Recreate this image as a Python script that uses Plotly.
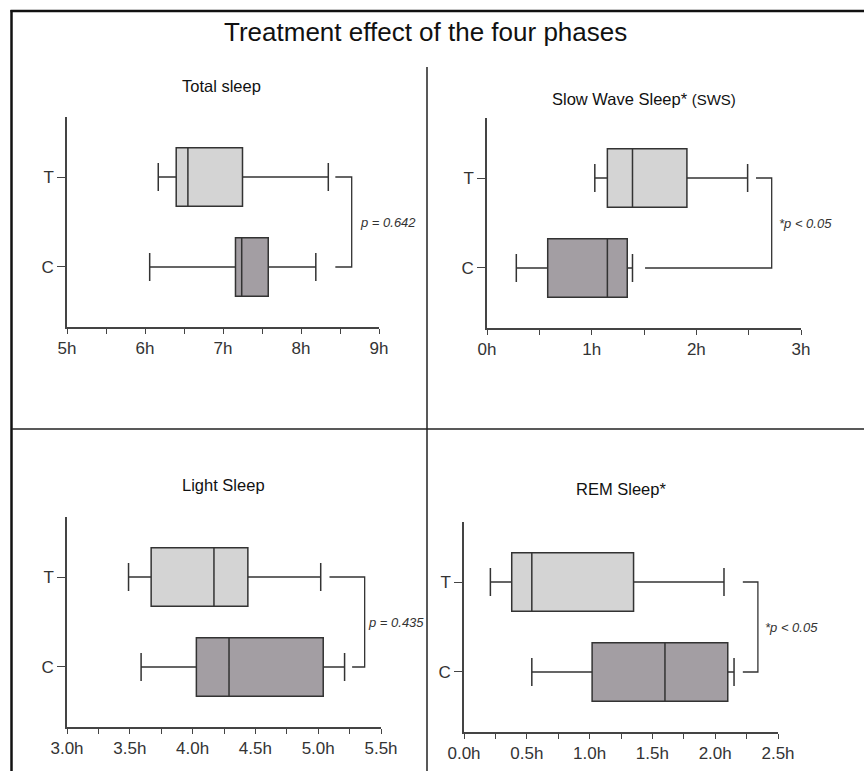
import plotly.graph_objects as go

W, H = 864, 771

# ---------------- data (hours) ----------------
panel_titles = ["Total sleep", "Slow Wave Sleep* <span style='font-size:15px'>(SWS)</span>", "Light Sleep", "REM Sleep*"]
groups = ["C", "T"]

# T (treatment) box stats per panel: [low, q1, median, q3, high]
T_low = [6.17, 1.03, 3.49, 0.21]
T_q1 = [6.40, 1.15, 3.67, 0.38]
T_med = [6.55, 1.39, 4.17, 0.54]
T_q3 = [7.25, 1.91, 4.44, 1.35]
T_high = [8.35, 2.49, 5.02, 2.07]

# C (control)
C_low = [6.06, 0.28, 3.59, 0.54]
C_q1 = [7.16, 0.58, 4.03, 1.02]
C_med = [7.24, 1.15, 4.29, 1.60]
C_q3 = [7.58, 1.34, 5.04, 2.10]
C_high = [8.19, 1.39, 5.21, 2.15]

# significance brackets
br_T_start = [8.44, 2.57, 5.09, 2.22]
br_C_start = [8.44, 1.51, 5.27, 2.22]
br_end = [8.65, 2.72, 5.37, 2.34]
p_text = ["p = 0.642", "*p < 0.05", "p = 0.435", "*p < 0.05"]
p_x = [8.73, 2.77, 5.38, 2.38]

# axes
x_ranges = [[5, 9], [0, 3], [3.0, 5.5], [0.0, 2.5]]
x_tickvals = [
    [5, 5.5, 6, 6.5, 7, 7.5, 8, 8.5, 9],
    [0, 0.5, 1, 1.5, 2, 2.5, 3],
    [3.0, 3.25, 3.5, 3.75, 4.0, 4.25, 4.5, 4.75, 5.0, 5.25, 5.5],
    [0.0, 0.25, 0.5, 0.75, 1.0, 1.25, 1.5, 1.75, 2.0, 2.25, 2.5],
]
x_ticktext = [
    ["5h", "", "6h", "", "7h", "", "8h", "", "9h"],
    ["0h", "", "1h", "", "2h", "", "3h"],
    ["3.0h", "", "3.5h", "", "4.0h", "", "4.5h", "", "5.0h", "", "5.5h"],
    ["0.0h", "", "0.5h", "", "1.0h", "", "1.5h", "", "2.0h", "", "2.5h"],
]

# ---------------- layout geometry (pixels) ----------------
plot_px = [  # left, right, top, bottom
    (67, 379, 117, 327),
    (487, 801, 118, 328),
    (67, 381, 517, 727),
    (464, 778, 522, 732),
]
title_px = [(222, 86), (644, 99), (223, 485), (621, 489)]

T_fill = "#d4d4d4"
C_fill = "#a39ea3"
LINE = "#333333"
AX = "#444444"
FONT = "Liberation Sans, Arial, sans-serif"


def px_x(v):
    return v / W


def px_y(v):
    return 1 - v / H


fig = go.Figure()
layout = {}
annotations = []

for i in range(4):
    n = "" if i == 0 else str(i + 1)
    xa, ya = "x" + n, "y" + n
    for g, lo, q1, md, q3, hi, fill in [
        ("T", T_low, T_q1, T_med, T_q3, T_high, T_fill),
        ("C", C_low, C_q1, C_med, C_q3, C_high, C_fill),
    ]:
        fig.add_trace(go.Box(
            y=[groups.index(g)], q1=[q1[i]], median=[md[i]], q3=[q3[i]],
            lowerfence=[lo[i]], upperfence=[hi[i]],
            orientation="h", boxpoints=False, width=0.65, whiskerwidth=0.48,
            fillcolor=fill, line=dict(color=LINE, width=1.5),
            xaxis=xa, yaxis=ya, showlegend=False, hoverinfo="skip",
        ))
    # bracket
    fig.add_trace(go.Scatter(
        x=[br_T_start[i], br_end[i], br_end[i], br_C_start[i]],
        y=[1, 1, 0, 0], mode="lines", line=dict(color=LINE, width=1.3),
        xaxis=xa, yaxis=ya, showlegend=False, hoverinfo="skip",
    ))
    annotations.append(dict(
        x=p_x[i], y=0.5, xref=xa, yref=ya, text="<i>" + p_text[i] + "</i>",
        showarrow=False, xanchor="left", yanchor="middle",
        font=dict(size=13, color="#333333", family=FONT),
    ))
    l, r, t, b = plot_px[i]
    layout["xaxis" + n] = dict(
        domain=[px_x(l), px_x(r)], anchor=ya, range=x_ranges[i], automargin=False,
        tickmode="array", tickvals=x_tickvals[i], ticktext=x_ticktext[i],
        ticks="outside", ticklen=5, tickwidth=1.3, tickcolor=AX,
        showline=True, linecolor=AX, linewidth=1.5, showgrid=False, zeroline=False,
        tickfont=dict(size=17, color="#333333", family=FONT),
        fixedrange=True,
    )
    layout["yaxis" + n] = dict(
        domain=[px_y(b), px_y(t)], anchor=xa, range=[-0.667, 1.667], automargin=False,
        tickmode="array", tickvals=[0, 1], ticktext=groups,
        ticks="outside", ticklen=8, tickwidth=1.3, tickcolor=AX,
        ticklabelstandoff=0,
        showline=True, linecolor=AX, linewidth=1.5, showgrid=False, zeroline=False,
        tickfont=dict(size=17, color="#333333", family=FONT),
        fixedrange=True,
    )
    tx, ty = title_px[i]
    annotations.append(dict(
        x=px_x(tx), y=px_y(ty), xref="paper", yref="paper", text=panel_titles[i],
        showarrow=False, xanchor="center", yanchor="middle",
        font=dict(size=16.5, color="#111111", family=FONT),
    ))

annotations.append(dict(
    x=px_x(425), y=px_y(32), xref="paper", yref="paper",
    text="Treatment effect of the four phases", showarrow=False,
    xanchor="center", yanchor="middle",
    font=dict(size=26, color="#111111", family=FONT),
))

shapes = [
    dict(type="line", xref="paper", yref="paper", x0=px_x(10.5), x1=1, y0=px_y(11), y1=px_y(11),
         line=dict(color="#111111", width=2.5)),
    dict(type="line", xref="paper", yref="paper", x0=px_x(11.5), x1=px_x(11.5), y0=px_y(10), y1=0,
         line=dict(color="#111111", width=2.5)),
    dict(type="line", xref="paper", yref="paper", x0=px_x(427), x1=px_x(427), y0=px_y(67), y1=0,
         line=dict(color="#222222", width=1.5)),
    dict(type="line", xref="paper", yref="paper", x0=px_x(12), x1=1, y0=px_y(429), y1=px_y(429),
         line=dict(color="#222222", width=1.5)),
]

fig.update_layout(
    width=W, height=H, margin=dict(l=0, r=0, t=0, b=0, autoexpand=False),
    paper_bgcolor="white", plot_bgcolor="white",
    annotations=annotations, shapes=shapes, showlegend=False,
    **layout,
)

fig.write_html("out.html", config={"displayModeBar": False})
